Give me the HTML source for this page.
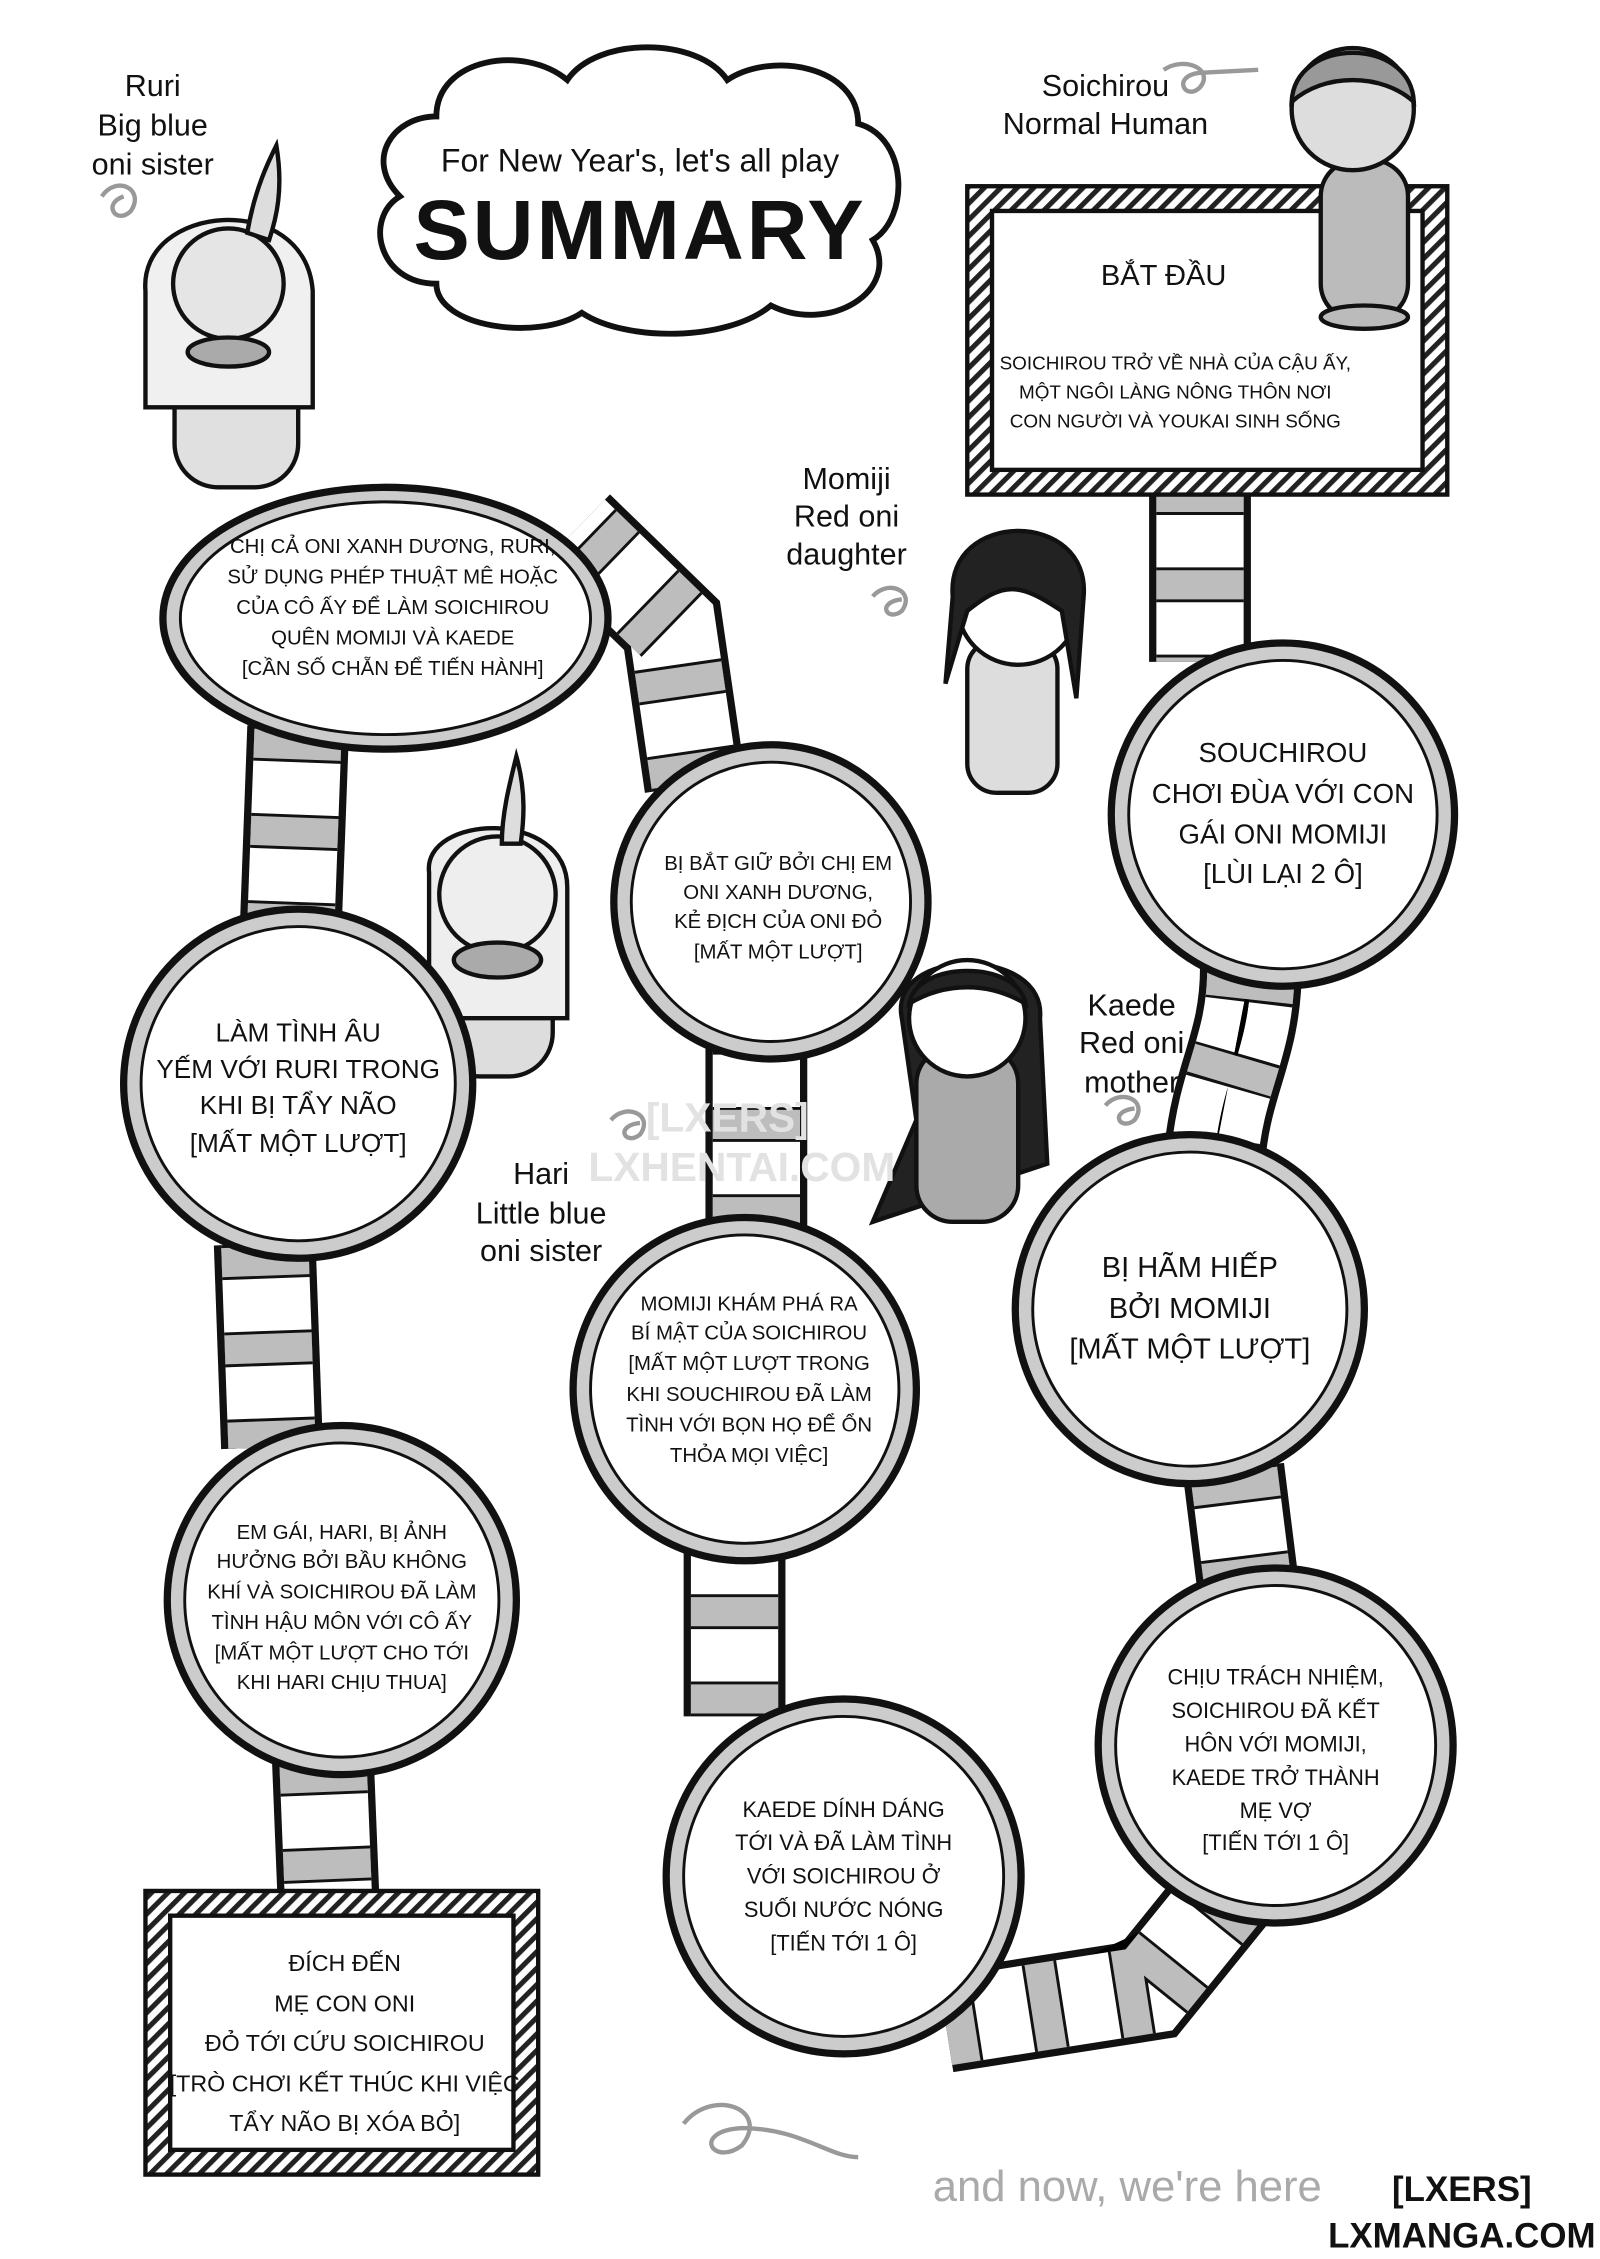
<!DOCTYPE html>
<html><head><meta charset="utf-8">
<style>
html,body{margin:0;padding:0;background:#fff;}
svg{display:block;}
text{font-family:"Liberation Sans",sans-serif;fill:#111;}
</style></head>
<body>
<svg width="1600" height="2259" viewBox="0 0 1100 1553" xmlns="http://www.w3.org/2000/svg">
<defs>
<pattern id="hatch" width="8" height="8" patternUnits="userSpaceOnUse" patternTransform="rotate(45)">
<rect width="8" height="8" fill="#fff"/><rect width="3.5" height="8" fill="#222"/>
</pattern>
</defs>
<rect width="1100" height="1553" fill="#fff"/>

<g fill="none" stroke-linecap="butt" stroke-linejoin="round">
<g id="trk">
<path d="M825,330 L825,455"/>
<path d="M860,665 C860,720 840,740 835,795"/>
<path d="M848,1010 L858,1090"/>
<path d="M845,1300 L790,1368 L650,1390"/>
<path d="M505,1180 L505,1060"/>
<path d="M520,845 L520,715"/>
<path d="M478,540 L462,430 L395,365"/>
<path d="M205,500 L200,635"/>
<path d="M182,855 L187,995"/>
<path d="M222,1210 L226,1310"/>
</g>
<g id="rg">
<path d="M825,330 L825,455"/>
<path d="M860,665 C860,720 840,740 835,795"/>
<path d="M848,1010 L858,1090"/>
<path d="M845,1300 L790,1368"/>
<path d="M790,1368 L650,1390"/>
<path d="M505,1180 L505,1060"/>
<path d="M520,845 L520,715"/>
<path d="M478,540 L462,430"/>
<path d="M462,430 L395,365"/>
<path d="M205,500 L200,635"/>
<path d="M182,855 L187,995"/>
<path d="M222,1210 L226,1310"/>
</g>
</g>
<use href="#trk" stroke="#111" stroke-width="70"/>
<use href="#trk" stroke="#fff" stroke-width="60"/>
<use href="#rg" stroke="#111" stroke-width="60" stroke-dasharray="24 36"/>
<use href="#rg" stroke="#bdbdbd" stroke-width="60" stroke-dasharray="20 40" stroke-dashoffset="-2"/>

<g fill="#fff" stroke="#111" stroke-width="4">
<path d="M300,80 C300,40 360,30 390,55 C410,25 480,25 500,55 C530,35 590,45 590,85 C625,95 625,150 600,165 C620,200 570,230 530,210 C500,235 430,235 400,215 C370,235 300,225 300,195 C260,195 250,150 275,135 C250,110 270,80 300,80 Z"/>
</g>
<text x="440" y="118" font-size="22" text-anchor="middle">For New Year's, let's all play</text>
<text x="440" y="178" font-size="58" font-weight="bold" text-anchor="middle" letter-spacing="2">SUMMARY</text>

<rect x="665" y="128" width="330" height="212" fill="url(#hatch)" stroke="#111" stroke-width="3"/>
<rect x="682" y="145" width="296" height="178" fill="#fff" stroke="#111" stroke-width="3"/>
<g text-anchor="middle">
<text x="800" y="196" font-size="20">BẮT ĐẦU</text>
<text x="808" y="254" font-size="13">SOICHIROU TRỞ VỀ NHÀ CỦA CẬU ẤY,</text>
<text x="808" y="274" font-size="13">MỘT NGÔI LÀNG NÔNG THÔN NƠI</text>
<text x="808" y="294" font-size="13">CON NGƯỜI VÀ YOUKAI SINH SỐNG</text>
</g>

<rect x="100" y="1300" width="270" height="195" fill="url(#hatch)" stroke="#111" stroke-width="3"/>
<rect x="117" y="1317" width="236" height="161" fill="#fff" stroke="#111" stroke-width="3"/>
<g text-anchor="middle" font-size="16">
<text x="237" y="1355">ĐÍCH ĐẾN</text>
<text x="237" y="1383">MẸ CON ONI</text>
<text x="237" y="1410">ĐỎ TỚI CỨU SOICHIROU</text>
<text x="237" y="1438">[TRÒ CHƠI KẾT THÚC KHI VIỆC</text>
<text x="237" y="1465">TẨY NÃO BỊ XÓA BỎ]</text>
</g>

<g stroke="#111" stroke-width="3">
<rect x="908" y="110" width="60" height="110" rx="25" fill="#bbb"/>
<ellipse cx="938" cy="218" rx="30" ry="8" fill="#bbb"/>
<circle cx="930" cy="75" r="42" fill="#ddd"/>
<path d="M888,70 C890,25 970,25 972,70 C950,50 910,50 888,70Z" fill="#999"/>
<rect x="120" y="230" width="85" height="105" rx="30" fill="#e0e0e0"/>
<path d="M100,200 C95,140 210,130 215,200 L215,280 L100,280Z" fill="#f0f0f0"/>
<circle cx="157" cy="195" r="38" fill="#e5e5e5"/>
<path d="M170,160 C175,130 185,110 190,100 C195,130 190,150 185,165Z" fill="#ddd"/>
<ellipse cx="157" cy="242" rx="28" ry="10" fill="#aaa"/>
<rect x="665" y="440" width="62" height="105" rx="20" fill="#ddd"/>
<circle cx="700" cy="415" r="42" fill="#fff"/>
<path d="M655,410 C650,350 750,350 745,410 L740,480 L730,420 C700,400 690,400 665,420 L650,470Z" fill="#222"/>
<rect x="300" y="640" width="80" height="100" rx="30" fill="#ddd"/>
<path d="M295,600 C290,560 390,555 390,610 L390,700 L295,700Z" fill="#eee"/>
<circle cx="342" cy="615" r="40" fill="#eee"/>
<path d="M345,580 C345,560 350,540 355,520 C362,545 360,565 358,580Z" fill="#ddd"/>
<ellipse cx="342" cy="660" rx="30" ry="12" fill="#aaa"/>
<path d="M620,700 C610,650 720,650 715,700 L720,800 L600,840 L630,770Z" fill="#222"/>
<rect x="630" y="720" width="70" height="120" rx="25" fill="#aaa"/>
<circle cx="665" cy="700" r="40" fill="#fff"/>
<path d="M625,690 C630,660 700,660 705,690 C680,675 650,675 625,690Z" fill="#222"/>
</g>

<g stroke="#111">
<ellipse cx="265" cy="425" rx="153" ry="90" fill="#ccc" stroke-width="5"/>
<ellipse cx="265" cy="425" rx="141" ry="80" fill="#fff" stroke-width="2"/>
<circle cx="882" cy="560" r="118" fill="#ccc" stroke-width="5"/><circle cx="882" cy="560" r="106" fill="#fff" stroke-width="2"/>
<circle cx="530" cy="620" r="108" fill="#ccc" stroke-width="5"/><circle cx="530" cy="620" r="96" fill="#fff" stroke-width="2"/>
<circle cx="205" cy="745" r="120" fill="#ccc" stroke-width="5"/><circle cx="205" cy="745" r="108" fill="#fff" stroke-width="2"/>
<circle cx="818" cy="900" r="120" fill="#ccc" stroke-width="5"/><circle cx="818" cy="900" r="108" fill="#fff" stroke-width="2"/>
<circle cx="512" cy="955" r="118" fill="#ccc" stroke-width="5"/><circle cx="512" cy="955" r="106" fill="#fff" stroke-width="2"/>
<circle cx="235" cy="1100" r="120" fill="#ccc" stroke-width="5"/><circle cx="235" cy="1100" r="108" fill="#fff" stroke-width="2"/>
<circle cx="877" cy="1200" r="122" fill="#ccc" stroke-width="5"/><circle cx="877" cy="1200" r="110" fill="#fff" stroke-width="2"/>
<circle cx="580" cy="1290" r="122" fill="#ccc" stroke-width="5"/><circle cx="580" cy="1290" r="110" fill="#fff" stroke-width="2"/>
</g>

<g text-anchor="middle">
<g font-size="14">
<text x="270" y="380">CHỊ CẢ ONI XANH DƯƠNG, RURI,</text>
<text x="270" y="401">SỬ DỤNG PHÉP THUẬT MÊ HOẶC</text>
<text x="270" y="422">CỦA CÔ ẤY ĐỂ LÀM SOICHIROU</text>
<text x="270" y="443">QUÊN MOMIJI VÀ KAEDE</text>
<text x="270" y="464">[CẦN SỐ CHẴN ĐỂ TIẾN HÀNH]</text>
</g>
<g font-size="19">
<text x="882" y="524">SOUCHIROU</text>
<text x="882" y="552">CHƠI ĐÙA VỚI CON</text>
<text x="882" y="580">GÁI ONI MOMIJI</text>
<text x="882" y="607">[LÙI LẠI 2 Ô]</text>
</g>
<g font-size="14">
<text x="535" y="598">BỊ BẮT GIỮ BỞI CHỊ EM</text>
<text x="535" y="618">ONI XANH DƯƠNG,</text>
<text x="535" y="638">KẺ ĐỊCH CỦA ONI ĐỎ</text>
<text x="535" y="659">[MẤT MỘT LƯỢT]</text>
</g>
<g font-size="18">
<text x="205" y="716">LÀM TÌNH ÂU</text>
<text x="205" y="741">YẾM VỚI RURI TRONG</text>
<text x="205" y="766">KHI BỊ TẨY NÃO</text>
<text x="205" y="792">[MẤT MỘT LƯỢT]</text>
</g>
<g font-size="20">
<text x="818" y="878">BỊ HÃM HIẾP</text>
<text x="818" y="906">BỞI MOMIJI</text>
<text x="818" y="934">[MẤT MỘT LƯỢT]</text>
</g>
<g font-size="14">
<text x="515" y="901">MOMIJI KHÁM PHÁ RA</text>
<text x="515" y="921">BÍ MẬT CỦA SOICHIROU</text>
<text x="515" y="942">[MẤT MỘT LƯỢT TRONG</text>
<text x="515" y="963">KHI SOUCHIROU ĐÃ LÀM</text>
<text x="515" y="984">TÌNH VỚI BỌN HỌ ĐỂ ỔN</text>
<text x="515" y="1005">THỎA MỌI VIỆC]</text>
</g>
<g font-size="14">
<text x="235" y="1058">EM GÁI, HARI, BỊ ẢNH</text>
<text x="235" y="1078">HƯỞNG BỞI BẦU KHÔNG</text>
<text x="235" y="1099">KHÍ VÀ SOICHIROU ĐÃ LÀM</text>
<text x="235" y="1120">TÌNH HẬU MÔN VỚI CÔ ẤY</text>
<text x="235" y="1141">[MẤT MỘT LƯỢT CHO TỚI</text>
<text x="235" y="1161">KHI HARI CHỊU THUA]</text>
</g>
<g font-size="15">
<text x="877" y="1158">CHỊU TRÁCH NHIỆM,</text>
<text x="877" y="1181">SOICHIROU ĐÃ KẾT</text>
<text x="877" y="1204">HÔN VỚI MOMIJI,</text>
<text x="877" y="1227">KAEDE TRỞ THÀNH</text>
<text x="877" y="1250">MẸ VỢ</text>
<text x="877" y="1272">[TIẾN TỚI 1 Ô]</text>
</g>
<g font-size="15">
<text x="580" y="1249">KAEDE DÍNH DÁNG</text>
<text x="580" y="1272">TỚI VÀ ĐÃ LÀM TÌNH</text>
<text x="580" y="1295">VỚI SOICHIROU Ở</text>
<text x="580" y="1318">SUỐI NƯỚC NÓNG</text>
<text x="580" y="1341">[TIẾN TỚI 1 Ô]</text>
</g>
</g>

<g text-anchor="middle" font-size="21">
<text x="105" y="66">Ruri</text>
<text x="105" y="93">Big blue</text>
<text x="105" y="120">oni sister</text>
<text x="760" y="66">Soichirou</text>
<text x="760" y="92">Normal Human</text>
<text x="582" y="336">Momiji</text>
<text x="582" y="362">Red oni</text>
<text x="582" y="388">daughter</text>
<text x="778" y="698">Kaede</text>
<text x="778" y="724">Red oni</text>
<text x="778" y="751">mother</text>
<text x="372" y="814">Hari</text>
<text x="372" y="841">Little blue</text>
<text x="372" y="867">oni sister</text>
</g>
<g fill="none" stroke="#999" stroke-width="3">
<path d="M70,135 c10,-15 30,-5 20,10 c-10,10 -20,-5 -5,-10"/>
<path d="M800,48 c15,-10 35,0 25,12 c-10,10 -20,-8 0,-10 l40,-2"/>
<path d="M600,410 c10,-12 30,-4 20,10 c-10,8 -18,-6 0,-8"/>
<path d="M420,770 c10,-12 30,-4 20,10 c-10,8 -18,-6 0,-8"/>
<path d="M760,760 c10,-12 30,-4 20,10 c-10,8 -18,-6 0,-8"/>
<path d="M470,1460 c20,-25 60,-10 40,15 c-20,15 -35,-10 0,-12 c40,0 60,20 80,20"/>
</g>
<g text-anchor="middle" font-size="28" font-weight="bold">
<text x="500" y="778" style="fill:#e2e2e2">[LXERS]</text>
<text x="510" y="812" style="fill:#e2e2e2">LXHENTAI.COM</text>
</g>
<text x="775" y="1513" font-size="30" text-anchor="middle" style="fill:#aaa">and now, we're here</text>
<text x="1005" y="1513" font-size="24" font-weight="bold" text-anchor="middle">[LXERS]</text>
<text x="1005" y="1545" font-size="24" font-weight="bold" text-anchor="middle">LXMANGA.COM</text>
</svg>
</body></html>
